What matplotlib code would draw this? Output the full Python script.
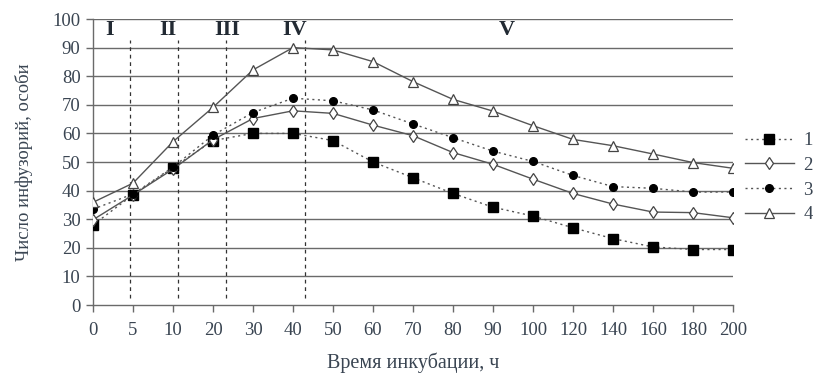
import matplotlib
matplotlib.use("Agg")
import matplotlib.pyplot as plt

times = ["0", "5", "10", "20", "30", "40", "50", "60", "70", "80", "90",
         "100", "120", "140", "160", "180", "200"]
s1 = [28, 38.5, 48, 57.5, 60, 60, 57.5, 50, 44.5, 39, 34.2, 31.1, 27, 23.2, 20.3, 19.4, 19.4]
s2 = [29.8, 38.5, 47.5, 57.8, 65.2, 67.9, 67, 62.9, 59.2, 53.3, 49.2, 44, 39, 35.3, 32.5, 32.3, 30.5]
s3 = [33.5, 38.8, 48.2, 59.4, 67.3, 72.3, 71.4, 68.2, 63.3, 58.5, 53.8, 50.2, 45.3, 41.4, 40.8, 39.5, 39.5]
s4 = [35.9, 42.6, 57.1, 69.1, 82.2, 90, 89.2, 85.1, 78.1, 71.9, 67.8, 62.7, 57.9, 55.7, 52.8, 49.8, 47.8]
series_labels = ["1", "2", "3", "4"]
phase_labels = ["I", "II", "III", "IV", "V"]
phase_label_pos = [0.42, 1.87, 3.35, 5.05, 10.35]
phase_bounds = [0.93, 2.12, 3.32, 5.3]

txt = "#3a4552"
serif = ["Liberation Serif", "DejaVu Serif"]
plt.rcParams["font.family"] = serif

fig = plt.figure(figsize=(8.13, 3.74), dpi=100)
ax = fig.add_axes([93 / 813, 1 - 305 / 374, 640 / 813, 286 / 374])

x = list(range(len(times)))
for yv in range(10, 101, 10):
    ax.axhline(yv, color="#6a6a6a", lw=1.0, zorder=1)
for b in phase_bounds:
    ax.plot([b, b], [2.5, 92.5], color="#333333", lw=0.9, ls=(0, (3, 3)), zorder=2)

lc = "#555555"
h1, = ax.plot(x, s1, color=lc, lw=1.0, ls=(0, (1.5, 2.5)), marker="s", ms=6.5,
              mfc="black", mec="black", zorder=4)
h2, = ax.plot(x, s2, color=lc, lw=1.0, ls="-", marker="d", ms=6.5,
              mfc="white", mec="#444444", mew=0.9, zorder=4)
h3, = ax.plot(x, s3, color=lc, lw=1.0, ls=(0, (1.5, 2.5)), marker="o", ms=5.5,
              mfc="black", mec="black", zorder=4)
h4, = ax.plot(x, s4, color=lc, lw=1.0, ls="-", marker="^", ms=7.5,
              mfc="white", mec="#444444", mew=0.9, zorder=4)

for lab, px in zip(phase_labels, phase_label_pos):
    ax.text(px, 96.0, lab, ha="center", va="center", fontsize=16,
            fontweight="bold", color="#222a33")

ax.set_xlim(0, 16)
ax.set_ylim(0, 100)
ax.set_xticks(x)
ax.set_xticklabels(times)
ax.set_yticks(range(0, 101, 10))
for s in ["top", "right"]:
    ax.spines[s].set_visible(False)
for s in ["left", "bottom"]:
    ax.spines[s].set_color("#6a6a6a")
    ax.spines[s].set_linewidth(1.0)
ax.tick_params(axis="both", colors="#6a6a6a", labelcolor=txt, labelsize=13.5, length=5, width=1)
ax.tick_params(axis="x", pad=7)
ax.tick_params(axis="y", pad=4)
ax.set_xlabel("Время инкубации, ч", fontsize=14.5, color=txt, labelpad=10)
ax.set_ylabel("Число инфузорий, особи", fontsize=13.5, color=txt, labelpad=14)

leg = ax.legend([h1, h2, h3, h4], series_labels, loc="center left",
                bbox_to_anchor=((745 - 93) / 640, 0.445), frameon=False, fontsize=13.5,
                handlelength=2.6, labelspacing=0.4, handletextpad=0.5,
                borderpad=0, borderaxespad=0, labelcolor=txt)

fig.savefig("out.png", dpi=100)
